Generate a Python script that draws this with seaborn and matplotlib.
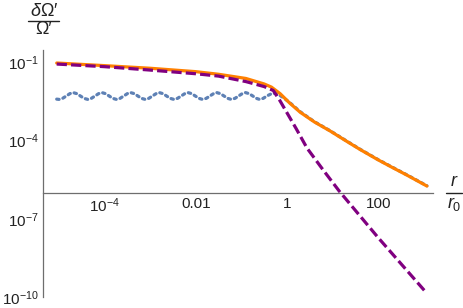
import numpy as np
import pandas as pd
import matplotlib
matplotlib.use("Agg")
import matplotlib.pyplot as plt
from matplotlib.lines import Line2D
import seaborn as sns

# ---- data (log10 values) ----
orange_logx = [-5.05, -4.0, -3.0, -2.0, -1.5, -0.9, -0.5, -0.34, -0.15, 0.06, 0.29,
               0.6, 0.95, 1.3, 1.61, 2.0, 2.3, 2.65, 3.07]
orange_logy = [-1.05, -1.15, -1.25, -1.38, -1.48, -1.64, -1.85, -1.97, -2.22, -2.58, -2.93,
               -3.3, -3.65, -4.03, -4.36, -4.75, -5.03, -5.35, -5.75]

purple_logx = [-5.05, -4.0, -3.0, -2.0, -1.5, -0.9, -0.5, -0.3, -0.15, 0.0, 0.2,
               0.44, 0.8, 1.15, 2.0, 3.04]
purple_logy = [-1.09, -1.19, -1.32, -1.46, -1.55, -1.76, -1.95, -2.1, -2.5, -2.95, -3.55,
               -4.3, -5.15, -5.95, -7.72, -9.79]

blue_logx = [-5.05, -5.00, -4.92, -4.84, -4.76, -4.69, -4.61, -4.53, -4.45,
             -4.37, -4.29, -4.21, -4.13, -4.06, -3.98, -3.90, -3.82,
             -3.74, -3.66, -3.58, -3.50, -3.43, -3.35, -3.27, -3.19,
             -3.11, -3.03, -2.95, -2.87, -2.80, -2.72, -2.64, -2.56,
             -2.48, -2.40, -2.32, -2.24, -2.17, -2.09, -2.01, -1.93,
             -1.85, -1.77, -1.69, -1.61, -1.54, -1.46, -1.38, -1.30,
             -1.22, -1.14, -1.06, -0.98, -0.91, -0.83, -0.75, -0.67,
             -0.60, -0.52, -0.44, -0.36, -0.28, -0.20, -0.10, 0.0, 0.06, 0.29,
             0.6, 0.95, 1.3, 1.61, 2.0, 2.3, 2.65, 3.07]
blue_logy = [-2.43, -2.44, -2.40, -2.31, -2.22, -2.18, -2.22, -2.31, -2.40,
             -2.44, -2.40, -2.31, -2.22, -2.18, -2.22, -2.31, -2.40,
             -2.44, -2.40, -2.31, -2.22, -2.18, -2.22, -2.31, -2.40,
             -2.44, -2.40, -2.31, -2.22, -2.18, -2.22, -2.31, -2.40,
             -2.44, -2.40, -2.31, -2.22, -2.18, -2.22, -2.31, -2.40,
             -2.44, -2.40, -2.31, -2.22, -2.18, -2.22, -2.31, -2.40,
             -2.44, -2.40, -2.31, -2.22, -2.18, -2.22, -2.31, -2.40,
             -2.44, -2.40, -2.31, -2.24, -2.21, -2.24, -2.35, -2.48, -2.56, -2.91,
             -3.29, -3.64, -4.02, -4.35, -4.74, -5.02, -5.34, -5.74]

xtick_vals = [1e-4, 1e-2, 1, 100]
xtick_labels = [r"$10^{-4}$", "0.01", "1", "100"]
ytick_vals = [1e-1, 1e-4, 1e-7, 1e-10]
ytick_labels = [r"$10^{-1}$", r"$10^{-4}$", r"$10^{-7}$", r"$10^{-10}$"]

sns.set_style("white")
plt.rcParams["font.family"] = ["Liberation Sans", "DejaVu Sans"]
plt.rcParams["mathtext.fontset"] = "custom"
plt.rcParams["mathtext.rm"] = "Liberation Sans"
plt.rcParams["mathtext.it"] = "Liberation Sans:italic"
plt.rcParams["mathtext.bf"] = "Liberation Sans:bold"

W, H = 463, 308
fig = plt.figure(figsize=(W / 100, H / 100), dpi=100)

x0px, x1px = 43.3, 433.3
y0px, y1px = 297.3, 50.0
ax = fig.add_axes([x0px / W, (H - y0px) / H, (x1px - x0px) / W, (y0px - y1px) / H])
ax.set_facecolor("none")

blue_df = pd.DataFrame({"x": np.power(10.0, blue_logx), "y": np.power(10.0, blue_logy)})
orange_df = pd.DataFrame({"x": np.power(10.0, orange_logx), "y": np.power(10.0, orange_logy)})
purple_df = pd.DataFrame({"x": np.power(10.0, purple_logx), "y": np.power(10.0, purple_logy)})

sns.lineplot(data=blue_df, x="x", y="y", ax=ax, color="#5E81B5", lw=2.3,
             linestyle=(0, (0.75, 1.25)), dash_capstyle="round", sort=False)
sns.lineplot(data=orange_df, x="x", y="y", ax=ax, color="#FF8000", lw=2.3, sort=False)
sns.lineplot(data=purple_df, x="x", y="y", ax=ax, color="#800080", lw=2.3,
             linestyle=(0, (3.2, 1.3)), sort=False)

ax.set_xscale("log")
ax.set_yscale("log")
ax.set_xlim(10 ** -5.344, 10 ** 3.21)
ax.set_ylim(1e-10, 10 ** -0.553)

for s in ["top", "right"]:
    ax.spines[s].set_visible(False)
ax.spines["bottom"].set_position(("data", 1e-6))
for s in ["left", "bottom"]:
    ax.spines[s].set_color("#6e6e6e")
    ax.spines[s].set_linewidth(0.9)

ax.set_xticks(xtick_vals)
ax.set_xticklabels(xtick_labels)
ax.set_yticks(ytick_vals)
ax.set_yticklabels(ytick_labels)
ax.xaxis.set_minor_locator(matplotlib.ticker.FixedLocator([1e-5, 1e-3, 1e-1, 10, 1000]))
ax.yaxis.set_minor_locator(matplotlib.ticker.FixedLocator([1e-2, 1e-3, 1e-5, 1e-6, 1e-8, 1e-9]))
ax.xaxis.set_minor_formatter(matplotlib.ticker.NullFormatter())
ax.yaxis.set_minor_formatter(matplotlib.ticker.NullFormatter())
ax.tick_params(axis="both", which="major", direction="in", length=3.5, width=0.7,
               color="#8a8a8a", labelsize=11, labelcolor="#222222")
ax.tick_params(axis="both", which="minor", direction="in", length=2.0, width=0.6,
               color="#a0a0a0")
ax.tick_params(axis="x", which="major", pad=3)
ax.tick_params(axis="y", which="major", pad=3)
ax.set_xlabel("")
ax.set_ylabel("")

def px(x, y):
    return x / W, (H - y) / H

# y-axis label: fraction  δΩ′ / Ω′
fig.text(*px(44, 12), r"$\delta$" + "Ω′", ha="center", va="center", fontsize=13, color="#222222")
fig.text(*px(44, 30), "Ω′", ha="center", va="center", fontsize=13, color="#222222")
fig.add_artist(Line2D([28 / W, 59 / W], [(H - 20.7) / H] * 2, color="#222222", lw=1.0))

# x-axis label: fraction  r / r0
fig.text(*px(454, 182), r"$r$", ha="center", va="center", fontsize=13, color="#222222")
fig.text(*px(454, 204), r"$r_0$", ha="center", va="center", fontsize=13, color="#222222")
fig.add_artist(Line2D([446 / W, 462 / W], [(H - 192.5) / H] * 2, color="#222222", lw=1.0))

fig.savefig("out.png", dpi=100)
